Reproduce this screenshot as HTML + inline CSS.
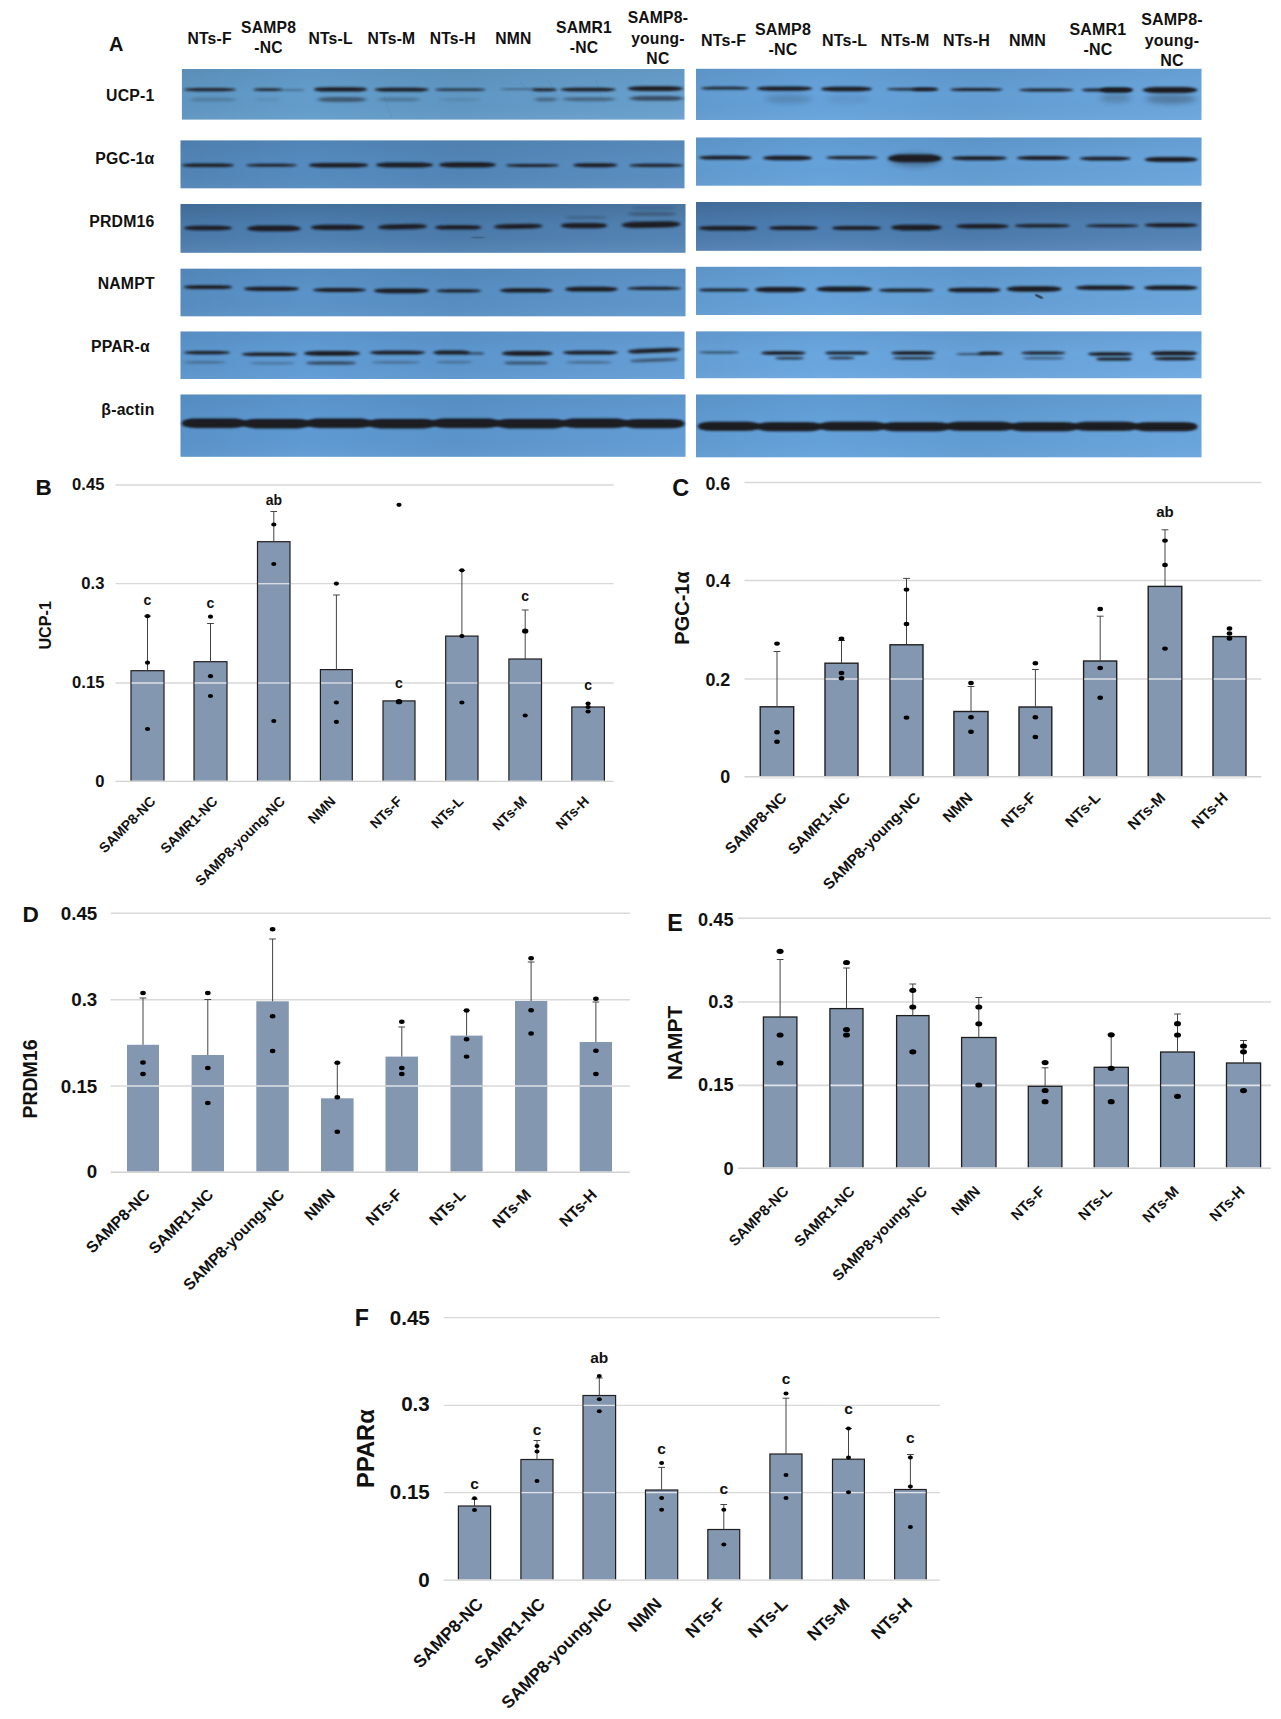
<!DOCTYPE html>
<html lang="en"><head><meta charset="utf-8"><title>Figure</title>
<style>html,body{margin:0;padding:0;background:#fff}body{width:1281px;height:1719px;overflow:hidden}</style>
</head><body>
<svg width="1281" height="1719" viewBox="0 0 1281 1719" style="display:block" font-family='"Liberation Sans", sans-serif' font-weight="700" fill="#111">
<defs>
<filter id="b1" x="-10%" y="-200%" width="120%" height="500%"><feGaussianBlur stdDeviation="1.5 0.85"/></filter>
<filter id="b2" x="-10%" y="-200%" width="120%" height="500%"><feGaussianBlur stdDeviation="2 1.0"/></filter>
<filter id="b3" x="-20%" y="-100%" width="140%" height="300%"><feGaussianBlur stdDeviation="3 2.4"/></filter>
<filter id="soft" x="-5%" y="-5%" width="110%" height="110%"><feGaussianBlur stdDeviation="0.45"/></filter>
<linearGradient id="shade" x1="0" y1="0" x2="1" y2="0">
<stop offset="0" stop-color="#000" stop-opacity=".05"/><stop offset=".25" stop-color="#000" stop-opacity=".0"/>
<stop offset=".55" stop-color="#000" stop-opacity=".04"/><stop offset="1" stop-color="#fff" stop-opacity=".03"/></linearGradient>
<linearGradient id="vshade0" x1="0" y1="0" x2="0" y2="1"><stop offset="0" stop-color="#000" stop-opacity=".05"/><stop offset=".5" stop-color="#000" stop-opacity="0"/><stop offset="1" stop-color="#fff" stop-opacity=".04"/></linearGradient>
<linearGradient id="vshade3" x1="0" y1="0" x2="0" y2="1"><stop offset="0" stop-color="#000" stop-opacity=".13"/><stop offset=".45" stop-color="#000" stop-opacity=".02"/><stop offset="1" stop-color="#fff" stop-opacity=".07"/></linearGradient>
</defs>
<rect width="1281" height="1719" fill="#fff"/>
<g id="blots">
<rect x="181.9" y="69" width="502.6" height="50.6" fill="#639dcb"/>
<rect x="181.9" y="69" width="502.6" height="50.6" fill="url(#shade)"/>
<rect x="181.9" y="69" width="502.6" height="50.6" fill="url(#vshade0)"/>
<rect x="180.5" y="140.4" width="504.0" height="47.9" fill="#558bbf"/>
<rect x="180.5" y="140.4" width="504.0" height="47.9" fill="url(#shade)"/>
<rect x="180.5" y="140.4" width="504.0" height="47.9" fill="url(#vshade0)"/>
<rect x="180.5" y="204" width="505.0" height="48.8" fill="#4e81b4"/>
<rect x="180.5" y="204" width="505.0" height="48.8" fill="url(#shade)"/>
<rect x="180.5" y="204" width="505.0" height="48.8" fill="url(#vshade3)"/>
<rect x="180.5" y="268.7" width="505.0" height="47.6" fill="#5a93c9"/>
<rect x="180.5" y="268.7" width="505.0" height="47.6" fill="url(#shade)"/>
<rect x="180.5" y="268.7" width="505.0" height="47.6" fill="url(#vshade0)"/>
<rect x="180.5" y="331.5" width="504.0" height="47.5" fill="#609cd5"/>
<rect x="180.5" y="331.5" width="504.0" height="47.5" fill="url(#shade)"/>
<rect x="180.5" y="331.5" width="504.0" height="47.5" fill="url(#vshade0)"/>
<rect x="180.5" y="394.5" width="505.0" height="62.3" fill="#5e9ad3"/>
<rect x="180.5" y="394.5" width="505.0" height="62.3" fill="url(#shade)"/>
<rect x="180.5" y="394.5" width="505.0" height="62.3" fill="url(#vshade0)"/>
<rect x="696" y="68.8" width="505.5" height="51.2" fill="#66a3db"/>
<rect x="696" y="68.8" width="505.5" height="51.2" fill="url(#shade)"/>
<rect x="696" y="68.8" width="505.5" height="51.2" fill="url(#vshade0)"/>
<rect x="696" y="137.5" width="505.5" height="48.2" fill="#65a2da"/>
<rect x="696" y="137.5" width="505.5" height="48.2" fill="url(#shade)"/>
<rect x="696" y="137.5" width="505.5" height="48.2" fill="url(#vshade0)"/>
<rect x="696" y="202" width="505.5" height="48.8" fill="#4e80b5"/>
<rect x="696" y="202" width="505.5" height="48.8" fill="url(#shade)"/>
<rect x="696" y="202" width="505.5" height="48.8" fill="url(#vshade3)"/>
<rect x="696" y="266.8" width="505.5" height="48.2" fill="#66a3db"/>
<rect x="696" y="266.8" width="505.5" height="48.2" fill="url(#shade)"/>
<rect x="696" y="266.8" width="505.5" height="48.2" fill="url(#vshade0)"/>
<rect x="696" y="331.4" width="505.5" height="46.8" fill="#6aa7e0"/>
<rect x="696" y="331.4" width="505.5" height="46.8" fill="url(#shade)"/>
<rect x="696" y="331.4" width="505.5" height="46.8" fill="url(#vshade0)"/>
<rect x="696" y="394.5" width="505.5" height="62.8" fill="#64a2db"/>
<rect x="696" y="394.5" width="505.5" height="62.8" fill="url(#shade)"/>
<rect x="696" y="394.5" width="505.5" height="62.8" fill="url(#vshade0)"/>
<rect x="184.0" y="88.05" width="52.0" height="3.10" rx="13.5" ry="1.55" fill="#1b1e24" opacity="0.95" filter="url(#b1)"/>
<rect x="253.0" y="88.30" width="30.0" height="2.60" rx="7.8" ry="1.30" fill="#1b1e24" opacity="0.9" filter="url(#b1)"/>
<rect x="281.0" y="89.30" width="24.0" height="1.40" rx="6.2" ry="0.70" fill="#1b1e24" opacity="0.45" filter="url(#b1)"/>
<rect x="314.0" y="87.20" width="53.0" height="4.40" rx="13.8" ry="2.20" fill="#1b1e24" opacity="1" filter="url(#b1)"/>
<rect x="374.7" y="87.75" width="54.0" height="3.70" rx="14.0" ry="1.85" fill="#1b1e24" opacity="1" filter="url(#b1)"/>
<rect x="435.0" y="88.40" width="50.6" height="2.40" rx="13.2" ry="1.20" fill="#1b1e24" opacity="0.9" filter="url(#b1)"/>
<rect x="500.0" y="88.45" width="40.0" height="1.50" rx="10.4" ry="0.75" fill="#1b1e24" opacity="0.5" filter="url(#b1)"/>
<rect x="532.0" y="88.30" width="25.0" height="3.00" rx="6.5" ry="1.50" fill="#1b1e24" opacity="0.95" filter="url(#b1)"/>
<rect x="560.7" y="87.85" width="54.8" height="3.50" rx="14.0" ry="1.75" fill="#1b1e24" opacity="1" filter="url(#b1)"/>
<rect x="627.7" y="86.20" width="55.3" height="4.80" rx="14.0" ry="2.40" fill="#1b1e24" opacity="1" filter="url(#b1)"/>
<rect x="190.0" y="97.60" width="46.0" height="4.00" rx="12.0" ry="2.00" fill="#1b1e24" opacity="0.2" filter="url(#b2)"/>
<rect x="255.0" y="97.90" width="25.0" height="3.40" rx="6.5" ry="1.70" fill="#1b1e24" opacity="0.08" filter="url(#b2)"/>
<rect x="318.0" y="96.90" width="48.0" height="5.00" rx="12.5" ry="2.50" fill="#1b1e24" opacity="0.5" filter="url(#b2)"/>
<rect x="378.0" y="97.40" width="42.0" height="4.00" rx="10.9" ry="2.00" fill="#1b1e24" opacity="0.25" filter="url(#b2)"/>
<rect x="440.0" y="97.90" width="40.0" height="3.40" rx="10.4" ry="1.70" fill="#1b1e24" opacity="0.1" filter="url(#b2)"/>
<rect x="535.0" y="97.40" width="22.0" height="4.00" rx="5.7" ry="2.00" fill="#1b1e24" opacity="0.38" filter="url(#b2)"/>
<rect x="563.0" y="97.20" width="52.0" height="4.00" rx="13.5" ry="2.00" fill="#1b1e24" opacity="0.4" filter="url(#b2)"/>
<rect x="630.0" y="96.10" width="53.0" height="4.60" rx="13.8" ry="2.30" fill="#1b1e24" opacity="0.62" filter="url(#b2)"/>
<rect x="182.0" y="163.40" width="52.0" height="3.60" rx="13.5" ry="1.80" fill="#1b1e24" opacity="1" filter="url(#b1)"/>
<rect x="246.0" y="163.70" width="51.0" height="3.00" rx="13.3" ry="1.50" fill="#1b1e24" opacity="0.95" filter="url(#b1)"/>
<rect x="309.0" y="162.90" width="59.0" height="4.60" rx="14.0" ry="2.30" fill="#1b1e24" opacity="1" filter="url(#b1)"/>
<rect x="376.0" y="162.60" width="57.0" height="4.80" rx="14.0" ry="2.40" fill="#1b1e24" opacity="1" filter="url(#b1)"/>
<rect x="439.0" y="162.20" width="57.0" height="5.20" rx="14.0" ry="2.60" fill="#1b1e24" opacity="1" filter="url(#b1)"/>
<rect x="506.0" y="163.90" width="52.7" height="3.00" rx="13.7" ry="1.50" fill="#1b1e24" opacity="0.95" filter="url(#b1)"/>
<rect x="573.0" y="163.20" width="44.5" height="4.00" rx="11.6" ry="2.00" fill="#1b1e24" opacity="1" filter="url(#b1)"/>
<rect x="629.7" y="163.70" width="52.8" height="3.40" rx="13.7" ry="1.70" fill="#1b1e24" opacity="0.95" filter="url(#b1)"/>
<rect x="184.0" y="225.80" width="48.0" height="4.40" rx="12.5" ry="2.20" fill="#1b1e24" opacity="1" filter="url(#b1)"/>
<rect x="247.0" y="225.60" width="54.0" height="5.60" rx="14.0" ry="2.80" fill="#1b1e24" opacity="1" filter="url(#b1)"/>
<rect x="311.0" y="224.70" width="53.0" height="5.40" rx="13.8" ry="2.70" fill="#1b1e24" opacity="1" filter="url(#b1)"/>
<rect x="378.0" y="224.30" width="49.0" height="5.00" rx="12.7" ry="2.50" fill="#1b1e24" opacity="1" filter="url(#b1)" transform="rotate(-1.20 402.5 226.8)"/>
<rect x="435.0" y="225.20" width="46.5" height="4.40" rx="12.1" ry="2.20" fill="#1b1e24" opacity="1" filter="url(#b1)"/>
<rect x="494.0" y="224.10" width="48.4" height="4.60" rx="12.6" ry="2.30" fill="#1b1e24" opacity="1" filter="url(#b1)" transform="rotate(-1.00 518.2 226.4)"/>
<rect x="560.7" y="223.00" width="46.7" height="5.20" rx="12.1" ry="2.60" fill="#1b1e24" opacity="1" filter="url(#b1)"/>
<rect x="621.6" y="221.50" width="58.9" height="6.20" rx="14.0" ry="3.10" fill="#1b1e24" opacity="1" filter="url(#b1)" transform="rotate(-1.00 651.0 224.6)"/>
<rect x="565.0" y="215.90" width="42.0" height="3.20" rx="10.9" ry="1.60" fill="#1b1e24" opacity="0.2" filter="url(#b1)"/>
<rect x="628.0" y="211.90" width="48.0" height="4.20" rx="12.5" ry="2.10" fill="#1b1e24" opacity="0.28" filter="url(#b1)"/>
<rect x="632.0" y="206.40" width="44.0" height="3.20" rx="11.4" ry="1.60" fill="#1b1e24" opacity="0.15" filter="url(#b1)"/>
<rect x="184.0" y="285.30" width="48.0" height="3.80" rx="12.5" ry="1.90" fill="#1b1e24" opacity="1" filter="url(#b1)"/>
<rect x="244.0" y="286.70" width="55.0" height="4.20" rx="14.0" ry="2.10" fill="#1b1e24" opacity="1" filter="url(#b1)"/>
<rect x="313.0" y="288.10" width="53.0" height="3.80" rx="13.8" ry="1.90" fill="#1b1e24" opacity="1" filter="url(#b1)"/>
<rect x="374.0" y="288.40" width="55.0" height="4.80" rx="14.0" ry="2.40" fill="#1b1e24" opacity="1" filter="url(#b1)"/>
<rect x="436.0" y="289.20" width="45.5" height="3.20" rx="11.8" ry="1.60" fill="#1b1e24" opacity="0.95" filter="url(#b1)"/>
<rect x="500.0" y="288.30" width="52.6" height="4.20" rx="13.7" ry="2.10" fill="#1b1e24" opacity="1" filter="url(#b1)"/>
<rect x="565.0" y="286.80" width="52.6" height="4.80" rx="13.7" ry="2.40" fill="#1b1e24" opacity="1" filter="url(#b1)"/>
<rect x="627.7" y="286.70" width="52.8" height="3.40" rx="13.7" ry="1.70" fill="#1b1e24" opacity="0.95" filter="url(#b1)"/>
<rect x="184.0" y="350.90" width="46.0" height="3.40" rx="12.0" ry="1.70" fill="#1b1e24" opacity="1" filter="url(#b1)"/>
<rect x="242.0" y="352.50" width="55.0" height="3.40" rx="14.0" ry="1.70" fill="#1b1e24" opacity="1" filter="url(#b1)"/>
<rect x="304.0" y="351.00" width="56.0" height="4.80" rx="14.0" ry="2.40" fill="#1b1e24" opacity="1" filter="url(#b1)"/>
<rect x="370.0" y="350.70" width="55.0" height="3.80" rx="14.0" ry="1.90" fill="#1b1e24" opacity="1" filter="url(#b1)"/>
<rect x="433.0" y="350.60" width="37.0" height="4.00" rx="9.6" ry="2.00" fill="#1b1e24" opacity="1" filter="url(#b1)"/>
<rect x="465.0" y="352.50" width="19.0" height="1.80" rx="4.9" ry="0.90" fill="#1b1e24" opacity="0.8" filter="url(#b1)"/>
<rect x="502.0" y="351.10" width="50.6" height="4.60" rx="13.2" ry="2.30" fill="#1b1e24" opacity="1" filter="url(#b1)"/>
<rect x="563.0" y="350.70" width="54.6" height="3.80" rx="14.0" ry="1.90" fill="#1b1e24" opacity="1" filter="url(#b1)"/>
<rect x="627.7" y="348.40" width="52.8" height="4.40" rx="13.7" ry="2.20" fill="#1b1e24" opacity="1" filter="url(#b1)" transform="rotate(-2.20 654.1 350.6)"/>
<rect x="184.0" y="361.10" width="42.0" height="2.60" rx="10.9" ry="1.30" fill="#1b1e24" opacity="0.3" filter="url(#b1)"/>
<rect x="250.0" y="361.90" width="45.0" height="2.60" rx="11.7" ry="1.30" fill="#1b1e24" opacity="0.28" filter="url(#b1)"/>
<rect x="306.0" y="361.30" width="50.0" height="3.40" rx="13.0" ry="1.70" fill="#1b1e24" opacity="0.6" filter="url(#b1)"/>
<rect x="372.0" y="361.10" width="48.0" height="2.60" rx="12.5" ry="1.30" fill="#1b1e24" opacity="0.3" filter="url(#b1)"/>
<rect x="436.0" y="360.90" width="36.0" height="2.60" rx="9.4" ry="1.30" fill="#1b1e24" opacity="0.3" filter="url(#b1)"/>
<rect x="504.0" y="361.40" width="44.0" height="3.20" rx="11.4" ry="1.60" fill="#1b1e24" opacity="0.55" filter="url(#b1)"/>
<rect x="566.0" y="361.10" width="46.0" height="2.60" rx="12.0" ry="1.30" fill="#1b1e24" opacity="0.35" filter="url(#b1)"/>
<rect x="630.0" y="358.60" width="48.0" height="3.20" rx="12.5" ry="1.60" fill="#1b1e24" opacity="0.55" filter="url(#b1)" transform="rotate(-2.20 654.0 360.2)"/>
<rect x="701.0" y="86.80" width="48.0" height="2.80" rx="12.5" ry="1.40" fill="#1b1e24" opacity="0.95" filter="url(#b1)"/>
<rect x="757.0" y="86.50" width="55.0" height="4.20" rx="14.0" ry="2.10" fill="#1b1e24" opacity="1" filter="url(#b1)"/>
<rect x="821.0" y="86.80" width="51.0" height="4.40" rx="13.3" ry="2.20" fill="#1b1e24" opacity="1" filter="url(#b1)"/>
<rect x="887.0" y="87.90" width="50.7" height="2.60" rx="13.2" ry="1.30" fill="#1b1e24" opacity="0.9" filter="url(#b1)"/>
<rect x="912.0" y="87.70" width="25.7" height="3.40" rx="6.7" ry="1.70" fill="#1b1e24" opacity="0.9" filter="url(#b1)"/>
<rect x="950.0" y="88.10" width="52.6" height="3.00" rx="13.7" ry="1.50" fill="#1b1e24" opacity="0.95" filter="url(#b1)"/>
<rect x="1019.0" y="88.50" width="54.7" height="3.00" rx="14.0" ry="1.50" fill="#1b1e24" opacity="0.95" filter="url(#b1)"/>
<rect x="1081.8" y="88.40" width="50.8" height="3.20" rx="13.2" ry="1.60" fill="#1b1e24" opacity="0.95" filter="url(#b1)"/>
<rect x="1100.0" y="87.60" width="32.6" height="4.80" rx="8.5" ry="2.40" fill="#1b1e24" opacity="1" filter="url(#b1)"/>
<rect x="1142.7" y="87.10" width="54.8" height="5.80" rx="14.0" ry="2.90" fill="#1b1e24" opacity="1" filter="url(#b1)"/>
<ellipse cx="1115.5" cy="98.0" rx="15.5" ry="4.50" fill="#1b1e24" opacity="0.22" filter="url(#b3)"/>
<ellipse cx="1171.0" cy="99.0" rx="25.0" ry="5.00" fill="#1b1e24" opacity="0.3" filter="url(#b3)"/>
<ellipse cx="787.5" cy="99.0" rx="22.5" ry="4.00" fill="#1b1e24" opacity="0.1" filter="url(#b3)"/>
<rect x="699.0" y="155.70" width="52.0" height="3.80" rx="13.5" ry="1.90" fill="#1b1e24" opacity="1" filter="url(#b1)"/>
<rect x="763.0" y="155.80" width="49.0" height="4.40" rx="12.7" ry="2.20" fill="#1b1e24" opacity="1" filter="url(#b1)"/>
<rect x="826.0" y="156.00" width="51.6" height="3.20" rx="13.4" ry="1.60" fill="#1b1e24" opacity="0.95" filter="url(#b1)"/>
<rect x="888.0" y="154.60" width="53.7" height="7.60" rx="14.0" ry="3.80" fill="#1b1e24" opacity="1" filter="url(#b1)"/>
<rect x="952.0" y="156.20" width="54.7" height="4.00" rx="14.0" ry="2.00" fill="#1b1e24" opacity="1" filter="url(#b1)"/>
<rect x="1016.8" y="156.10" width="52.8" height="3.80" rx="13.7" ry="1.90" fill="#1b1e24" opacity="1" filter="url(#b1)"/>
<rect x="1079.8" y="156.80" width="50.7" height="3.60" rx="13.2" ry="1.80" fill="#1b1e24" opacity="1" filter="url(#b1)"/>
<rect x="1144.7" y="156.90" width="52.8" height="5.00" rx="13.7" ry="2.50" fill="#1b1e24" opacity="1" filter="url(#b1)"/>
<ellipse cx="915.0" cy="160.0" rx="25.0" ry="7.00" fill="#1b1e24" opacity="0.3" filter="url(#b3)"/>
<rect x="699.0" y="225.90" width="58.0" height="4.60" rx="14.0" ry="2.30" fill="#1b1e24" opacity="1" filter="url(#b1)"/>
<rect x="769.0" y="226.00" width="49.0" height="4.00" rx="12.7" ry="2.00" fill="#1b1e24" opacity="1" filter="url(#b1)"/>
<rect x="832.0" y="225.90" width="49.0" height="4.20" rx="12.7" ry="2.10" fill="#1b1e24" opacity="1" filter="url(#b1)"/>
<rect x="891.0" y="224.80" width="50.7" height="5.60" rx="13.2" ry="2.80" fill="#1b1e24" opacity="1" filter="url(#b1)"/>
<rect x="956.0" y="224.00" width="52.7" height="4.40" rx="13.7" ry="2.20" fill="#1b1e24" opacity="1" filter="url(#b1)"/>
<rect x="1014.8" y="224.10" width="54.8" height="3.40" rx="14.0" ry="1.70" fill="#1b1e24" opacity="0.95" filter="url(#b1)"/>
<rect x="1085.9" y="224.30" width="52.7" height="3.00" rx="13.7" ry="1.50" fill="#1b1e24" opacity="0.95" filter="url(#b1)"/>
<rect x="1144.7" y="223.20" width="52.8" height="4.00" rx="13.7" ry="2.00" fill="#1b1e24" opacity="1" filter="url(#b1)"/>
<rect x="699.0" y="288.40" width="50.0" height="3.20" rx="13.0" ry="1.60" fill="#1b1e24" opacity="0.95" filter="url(#b1)"/>
<rect x="755.0" y="287.00" width="50.7" height="5.20" rx="13.2" ry="2.60" fill="#1b1e24" opacity="1" filter="url(#b1)"/>
<rect x="816.7" y="286.60" width="55.3" height="5.20" rx="14.0" ry="2.60" fill="#1b1e24" opacity="1" filter="url(#b1)"/>
<rect x="878.8" y="288.50" width="54.8" height="3.40" rx="14.0" ry="1.70" fill="#1b1e24" opacity="0.95" filter="url(#b1)"/>
<rect x="947.8" y="287.70" width="52.8" height="4.60" rx="13.7" ry="2.30" fill="#1b1e24" opacity="1" filter="url(#b1)"/>
<rect x="1006.7" y="286.30" width="54.8" height="5.40" rx="14.0" ry="2.70" fill="#1b1e24" opacity="1" filter="url(#b1)"/>
<rect x="1075.7" y="285.60" width="58.9" height="4.40" rx="14.0" ry="2.20" fill="#1b1e24" opacity="1" filter="url(#b1)"/>
<rect x="1144.0" y="285.50" width="53.5" height="4.60" rx="13.9" ry="2.30" fill="#1b1e24" opacity="1" filter="url(#b1)"/>
<rect x="699.0" y="351.40" width="39.7" height="2.00" rx="10.3" ry="1.00" fill="#1b1e24" opacity="0.7" filter="url(#b1)"/>
<rect x="761.0" y="351.30" width="44.7" height="3.40" rx="11.6" ry="1.70" fill="#1b1e24" opacity="1" filter="url(#b1)"/>
<rect x="824.8" y="351.40" width="43.8" height="3.20" rx="11.4" ry="1.60" fill="#1b1e24" opacity="1" filter="url(#b1)"/>
<rect x="891.0" y="351.30" width="44.6" height="3.40" rx="11.6" ry="1.70" fill="#1b1e24" opacity="1" filter="url(#b1)"/>
<rect x="956.0" y="353.30" width="29.0" height="1.80" rx="7.5" ry="0.90" fill="#1b1e24" opacity="0.7" filter="url(#b1)"/>
<rect x="978.0" y="351.70" width="24.6" height="3.40" rx="6.4" ry="1.70" fill="#1b1e24" opacity="1" filter="url(#b1)"/>
<rect x="1020.9" y="351.50" width="44.7" height="3.00" rx="11.6" ry="1.50" fill="#1b1e24" opacity="1" filter="url(#b1)"/>
<rect x="1087.9" y="352.30" width="44.7" height="3.40" rx="11.6" ry="1.70" fill="#1b1e24" opacity="1" filter="url(#b1)"/>
<rect x="1150.8" y="351.20" width="46.7" height="4.40" rx="12.1" ry="2.20" fill="#1b1e24" opacity="1" filter="url(#b1)"/>
<rect x="775.0" y="357.00" width="29.0" height="2.40" rx="7.5" ry="1.20" fill="#1b1e24" opacity="0.8" filter="url(#b1)"/>
<rect x="828.0" y="356.80" width="27.0" height="2.40" rx="7.0" ry="1.20" fill="#1b1e24" opacity="0.8" filter="url(#b1)"/>
<rect x="893.0" y="356.90" width="41.0" height="2.60" rx="10.7" ry="1.30" fill="#1b1e24" opacity="0.85" filter="url(#b1)"/>
<rect x="1023.0" y="357.20" width="41.0" height="2.00" rx="10.7" ry="1.00" fill="#1b1e24" opacity="0.6" filter="url(#b1)"/>
<rect x="1096.0" y="357.40" width="36.0" height="3.20" rx="9.4" ry="1.60" fill="#1b1e24" opacity="1" filter="url(#b1)"/>
<rect x="1154.0" y="357.00" width="42.0" height="3.20" rx="10.9" ry="1.60" fill="#1b1e24" opacity="1" filter="url(#b1)"/>
<rect x="182.0" y="418.50" width="64.0" height="9.40" rx="14.0" ry="4.70" fill="#1b1e24" opacity="1" filter="url(#b1)"/>
<rect x="243.0" y="419.10" width="67.0" height="9.40" rx="14.0" ry="4.70" fill="#1b1e24" opacity="1" filter="url(#b1)"/>
<rect x="306.0" y="418.50" width="66.0" height="9.40" rx="14.0" ry="4.70" fill="#1b1e24" opacity="1" filter="url(#b1)"/>
<rect x="368.0" y="419.10" width="68.0" height="9.40" rx="14.0" ry="4.70" fill="#1b1e24" opacity="1" filter="url(#b1)"/>
<rect x="432.0" y="418.50" width="68.0" height="9.40" rx="14.0" ry="4.70" fill="#1b1e24" opacity="1" filter="url(#b1)"/>
<rect x="496.0" y="419.10" width="70.0" height="9.40" rx="14.0" ry="4.70" fill="#1b1e24" opacity="1" filter="url(#b1)"/>
<rect x="562.0" y="418.50" width="66.0" height="9.40" rx="14.0" ry="4.70" fill="#1b1e24" opacity="1" filter="url(#b1)"/>
<rect x="624.0" y="419.30" width="60.5" height="9.00" rx="14.0" ry="4.50" fill="#1b1e24" opacity="1" filter="url(#b1)"/>
<rect x="184" y="420.8" width="498" height="5.0" fill="#1b1e24" filter="url(#b1)"/>
<rect x="698.0" y="421.70" width="62.0" height="9.00" rx="14.0" ry="4.50" fill="#1b1e24" opacity="1" filter="url(#b1)"/>
<rect x="757.0" y="422.30" width="65.0" height="9.00" rx="14.0" ry="4.50" fill="#1b1e24" opacity="1" filter="url(#b1)"/>
<rect x="819.0" y="421.70" width="67.0" height="9.00" rx="14.0" ry="4.50" fill="#1b1e24" opacity="1" filter="url(#b1)"/>
<rect x="882.0" y="422.30" width="68.0" height="9.00" rx="14.0" ry="4.50" fill="#1b1e24" opacity="1" filter="url(#b1)"/>
<rect x="946.0" y="421.70" width="68.0" height="9.00" rx="14.0" ry="4.50" fill="#1b1e24" opacity="1" filter="url(#b1)"/>
<rect x="1010.0" y="422.30" width="68.0" height="9.00" rx="14.0" ry="4.50" fill="#1b1e24" opacity="1" filter="url(#b1)"/>
<rect x="1074.0" y="421.70" width="64.0" height="9.00" rx="14.0" ry="4.50" fill="#1b1e24" opacity="1" filter="url(#b1)"/>
<rect x="1134.0" y="422.30" width="63.5" height="9.00" rx="14.0" ry="4.50" fill="#1b1e24" opacity="1" filter="url(#b1)"/>
<rect x="700" y="424.2" width="495" height="4.4" fill="#1b1e24" filter="url(#b1)"/>
<ellipse cx="1039" cy="296.5" rx="4.5" ry="1.2" fill="#1b1e24" opacity=".75" transform="rotate(24 1039 296.5)" filter="url(#soft)"/>
<ellipse cx="790" cy="99" rx="24" ry="5" fill="#1b1e24" opacity=".08" filter="url(#b3)"/>
<ellipse cx="848" cy="99" rx="22" ry="5" fill="#1b1e24" opacity=".07" filter="url(#b3)"/>
<ellipse cx="478" cy="237.5" rx="7" ry="1" fill="#1b1e24" opacity=".25" filter="url(#soft)"/>
<path d="M520 82 L534 96 M548 80 L560 100 M596 80 L604 104 M384 96 L392 118" stroke="#2c4d75" stroke-width="0.7" opacity=".14" fill="none"/>
</g>
<g id="blotlabels" font-size="15.8" letter-spacing="0.2">
<text x="109" y="50.7" font-size="20" letter-spacing="0">A</text>
<g font-size="15.7" text-anchor="middle">
<text x="209.6" y="44">NTs-F</text>
<text x="268.6" y="33.1">SAMP8</text>
<text x="268.6" y="53.3">-NC</text>
<text x="330.6" y="44">NTs-L</text>
<text x="391.5" y="44">NTs-M</text>
<text x="452.7" y="44">NTs-H</text>
<text x="513.4" y="44">NMN</text>
<text x="584.0" y="33.1">SAMR1</text>
<text x="584.0" y="53.3">-NC</text>
<text x="657.9" y="23.2">SAMP8-</text>
<text x="657.9" y="43.7">young-</text>
<text x="657.9" y="63.7">NC</text>
</g>
<g font-size="16" text-anchor="middle">
<text x="723.6" y="45.7">NTs-F</text>
<text x="783.0" y="35">SAMP8</text>
<text x="783.0" y="55">-NC</text>
<text x="844.6" y="45.7">NTs-L</text>
<text x="905.2" y="45.7">NTs-M</text>
<text x="966.5" y="45.7">NTs-H</text>
<text x="1027.4" y="45.7">NMN</text>
<text x="1097.9" y="35">SAMR1</text>
<text x="1097.9" y="55">-NC</text>
<text x="1172.0" y="25">SAMP8-</text>
<text x="1172.0" y="45.7">young-</text>
<text x="1172.0" y="65.5">NC</text>
</g>
<text x="154.5" y="100.6" text-anchor="end">UCP-1</text>
<text x="154.5" y="163.5" text-anchor="end">PGC-1α</text>
<text x="154.5" y="226.5" text-anchor="end">PRDM16</text>
<text x="154.8" y="289.4" text-anchor="end">NAMPT</text>
<text x="149.8" y="352.2" text-anchor="end">PPAR-α</text>
<text x="154.5" y="415" text-anchor="end">β-actin</text>
</g>
<g id="chartB">
<line x1="115.5" y1="485" x2="613.7" y2="485" stroke="#d8d8d8" stroke-width="1.3"/>
<line x1="115.5" y1="583.7" x2="613.7" y2="583.7" stroke="#d8d8d8" stroke-width="1.3"/>
<line x1="115.5" y1="683" x2="613.7" y2="683" stroke="#d8d8d8" stroke-width="1.3"/>
<rect x="131.0" y="670.7" width="33.0" height="111.5" fill="#8497b0" stroke="#1e1e1e" stroke-width="1.2"/>
<rect x="194.0" y="661.7" width="33.0" height="120.5" fill="#8497b0" stroke="#1e1e1e" stroke-width="1.2"/>
<rect x="257.5" y="541.7" width="32.5" height="240.5" fill="#8497b0" stroke="#1e1e1e" stroke-width="1.2"/>
<rect x="320.4" y="669.6" width="31.9" height="112.6" fill="#8497b0" stroke="#1e1e1e" stroke-width="1.2"/>
<rect x="383.0" y="700.9" width="32.0" height="81.3" fill="#8497b0" stroke="#1e1e1e" stroke-width="1.2"/>
<rect x="445.7" y="636.1" width="32.3" height="146.1" fill="#8497b0" stroke="#1e1e1e" stroke-width="1.2"/>
<rect x="508.9" y="659.0" width="32.6" height="123.2" fill="#8497b0" stroke="#1e1e1e" stroke-width="1.2"/>
<rect x="571.8" y="707.0" width="32.6" height="75.2" fill="#8497b0" stroke="#1e1e1e" stroke-width="1.2"/>
<rect x="115.5" y="780.75" width="498.2" height="2.50" fill="#fff"/>
<line x1="115.5" y1="781.4" x2="613.7" y2="781.4" stroke="#d2d2d2" stroke-width="1.3"/>
<line x1="258.1" y1="583.7" x2="289.4" y2="583.7" stroke="#dfe2e7" stroke-width="1.3"/>
<line x1="131.6" y1="683" x2="163.4" y2="683" stroke="#dfe2e7" stroke-width="1.3"/>
<line x1="194.6" y1="683" x2="226.4" y2="683" stroke="#dfe2e7" stroke-width="1.3"/>
<line x1="258.1" y1="683" x2="289.4" y2="683" stroke="#dfe2e7" stroke-width="1.3"/>
<line x1="321.0" y1="683" x2="351.7" y2="683" stroke="#dfe2e7" stroke-width="1.3"/>
<line x1="446.3" y1="683" x2="477.4" y2="683" stroke="#dfe2e7" stroke-width="1.3"/>
<line x1="509.5" y1="683" x2="540.9" y2="683" stroke="#dfe2e7" stroke-width="1.3"/>
<path d="M147.5 670.7V616.0M144.1 616.0H150.9" stroke="#444" stroke-width="1" fill="none"/>
<ellipse cx="147.5" cy="616.2" rx="2.6" ry="2.1" fill="#000"/>
<ellipse cx="147.5" cy="662.7" rx="2.6" ry="2.1" fill="#000"/>
<ellipse cx="147.5" cy="729.0" rx="2.6" ry="2.1" fill="#000"/>
<text x="147.5" y="604.5" text-anchor="middle" font-size="14">c</text>
<path d="M210.5 661.7V623.5M207.1 623.5H213.9" stroke="#444" stroke-width="1" fill="none"/>
<ellipse cx="210.5" cy="616.7" rx="2.6" ry="2.1" fill="#000"/>
<ellipse cx="210.5" cy="676.2" rx="2.6" ry="2.1" fill="#000"/>
<ellipse cx="210.5" cy="696.0" rx="2.6" ry="2.1" fill="#000"/>
<text x="210.5" y="608.0" text-anchor="middle" font-size="14">c</text>
<path d="M273.8 541.7V511.5M270.4 511.5H277.1" stroke="#444" stroke-width="1" fill="none"/>
<ellipse cx="273.8" cy="524.5" rx="2.6" ry="2.1" fill="#000"/>
<ellipse cx="273.8" cy="564.0" rx="2.6" ry="2.1" fill="#000"/>
<ellipse cx="273.8" cy="721.0" rx="2.6" ry="2.1" fill="#000"/>
<text x="273.8" y="505.0" text-anchor="middle" font-size="14">ab</text>
<path d="M336.4 669.6V595.0M333.0 595.0H339.8" stroke="#444" stroke-width="1" fill="none"/>
<ellipse cx="336.4" cy="583.6" rx="2.6" ry="2.1" fill="#000"/>
<ellipse cx="336.4" cy="702.5" rx="2.6" ry="2.1" fill="#000"/>
<ellipse cx="336.4" cy="721.9" rx="2.6" ry="2.1" fill="#000"/>
<ellipse cx="399.0" cy="504.8" rx="2.6" ry="2.1" fill="#000"/>
<ellipse cx="399.0" cy="701.7" rx="3.2" ry="2.6" fill="#000"/>
<text x="399.0" y="688.0" text-anchor="middle" font-size="14">c</text>
<path d="M461.9 636.1V570.3M458.5 570.3H465.2" stroke="#444" stroke-width="1" fill="none"/>
<ellipse cx="461.9" cy="570.3" rx="2.6" ry="2.1" fill="#000"/>
<ellipse cx="461.9" cy="636.1" rx="2.6" ry="2.1" fill="#000"/>
<ellipse cx="461.9" cy="702.5" rx="2.6" ry="2.1" fill="#000"/>
<path d="M525.2 659.0V610.0M521.8 610.0H528.6" stroke="#444" stroke-width="1" fill="none"/>
<ellipse cx="525.2" cy="631.0" rx="3.2" ry="2.6" fill="#000"/>
<ellipse cx="525.2" cy="715.5" rx="2.6" ry="2.1" fill="#000"/>
<text x="525.2" y="601.0" text-anchor="middle" font-size="14">c</text>
<ellipse cx="588.1" cy="703.5" rx="2.6" ry="2.1" fill="#000"/>
<ellipse cx="588.1" cy="707.0" rx="2.6" ry="2.1" fill="#000"/>
<ellipse cx="588.1" cy="711.5" rx="2.6" ry="2.1" fill="#000"/>
<text x="588.1" y="690.0" text-anchor="middle" font-size="14">c</text>
<text x="104.4" y="490.3" text-anchor="end" font-size="16.6">0.45</text>
<text x="104.4" y="588.5" text-anchor="end" font-size="16.6">0.3</text>
<text x="104.4" y="688.2" text-anchor="end" font-size="16.6">0.15</text>
<text x="104.4" y="787.4" text-anchor="end" font-size="16.6">0</text>
<text x="35.6" y="495" font-size="22.5">B</text>
<text transform="translate(50.7 625.3) rotate(-90)" text-anchor="middle" font-size="16.2">UCP-1</text>
<text transform="translate(156.5 802.1) rotate(-45)" text-anchor="end" font-size="14">SAMP8-NC</text>
<text transform="translate(218.5 802.1) rotate(-45)" text-anchor="end" font-size="14">SAMR1-NC</text>
<text transform="translate(285.8 802.1) rotate(-45)" text-anchor="end" font-size="14">SAMP8-young-NC</text>
<text transform="translate(336.4 802.1) rotate(-45)" text-anchor="end" font-size="14">NMN</text>
<text transform="translate(403.0 802.1) rotate(-45)" text-anchor="end" font-size="14">NTs-F</text>
<text transform="translate(464.4 802.1) rotate(-45)" text-anchor="end" font-size="14">NTs-L</text>
<text transform="translate(527.7 802.1) rotate(-45)" text-anchor="end" font-size="14">NTs-M</text>
<text transform="translate(589.8 802.1) rotate(-45)" text-anchor="end" font-size="14">NTs-H</text>
</g>
<g id="chartC">
<line x1="744.5" y1="482.5" x2="1261.4" y2="482.5" stroke="#d8d8d8" stroke-width="1.4"/>
<line x1="744.5" y1="580.5" x2="1261.4" y2="580.5" stroke="#d8d8d8" stroke-width="1.4"/>
<line x1="744.5" y1="679" x2="1261.4" y2="679" stroke="#d8d8d8" stroke-width="1.4"/>
<rect x="760.2" y="706.8" width="33.5" height="70.7" fill="#8497b0" stroke="#1e1e1e" stroke-width="1.4"/>
<rect x="825.0" y="663.2" width="33.0" height="114.3" fill="#8497b0" stroke="#1e1e1e" stroke-width="1.4"/>
<rect x="890.0" y="644.8" width="33.0" height="132.7" fill="#8497b0" stroke="#1e1e1e" stroke-width="1.4"/>
<rect x="953.9" y="711.5" width="34.1" height="66.0" fill="#8497b0" stroke="#1e1e1e" stroke-width="1.4"/>
<rect x="1019.0" y="707.0" width="32.8" height="70.5" fill="#8497b0" stroke="#1e1e1e" stroke-width="1.4"/>
<rect x="1083.6" y="661.0" width="33.1" height="116.5" fill="#8497b0" stroke="#1e1e1e" stroke-width="1.4"/>
<rect x="1148.2" y="586.4" width="33.6" height="191.1" fill="#8497b0" stroke="#1e1e1e" stroke-width="1.4"/>
<rect x="1213.0" y="636.6" width="33.0" height="140.9" fill="#8497b0" stroke="#1e1e1e" stroke-width="1.4"/>
<rect x="744.5" y="776.00" width="516.9" height="2.60" fill="#fff"/>
<line x1="744.5" y1="776.7" x2="1261.4" y2="776.7" stroke="#d2d2d2" stroke-width="1.4"/>
<line x1="825.6" y1="679" x2="857.4" y2="679" stroke="#dfe2e7" stroke-width="1.4"/>
<line x1="890.6" y1="679" x2="922.4" y2="679" stroke="#dfe2e7" stroke-width="1.4"/>
<line x1="1084.2" y1="679" x2="1116.1" y2="679" stroke="#dfe2e7" stroke-width="1.4"/>
<line x1="1148.8" y1="679" x2="1181.2" y2="679" stroke="#dfe2e7" stroke-width="1.4"/>
<line x1="1213.6" y1="679" x2="1245.4" y2="679" stroke="#dfe2e7" stroke-width="1.4"/>
<path d="M777.0 706.8V651.5M773.6 651.5H780.4" stroke="#444" stroke-width="1" fill="none"/>
<ellipse cx="777.0" cy="643.6" rx="2.8" ry="2.2" fill="#000"/>
<ellipse cx="777.0" cy="732.3" rx="2.8" ry="2.2" fill="#000"/>
<ellipse cx="777.0" cy="741.8" rx="2.8" ry="2.2" fill="#000"/>
<path d="M841.5 663.2V640.5M838.1 640.5H844.9" stroke="#444" stroke-width="1" fill="none"/>
<ellipse cx="841.5" cy="638.8" rx="2.8" ry="2.2" fill="#000"/>
<ellipse cx="841.5" cy="673.0" rx="2.8" ry="2.2" fill="#000"/>
<ellipse cx="841.5" cy="678.3" rx="2.8" ry="2.2" fill="#000"/>
<path d="M906.5 644.8V578.4M903.1 578.4H909.9" stroke="#444" stroke-width="1" fill="none"/>
<ellipse cx="906.5" cy="589.6" rx="2.8" ry="2.2" fill="#000"/>
<ellipse cx="906.5" cy="624.0" rx="2.8" ry="2.2" fill="#000"/>
<ellipse cx="906.5" cy="717.6" rx="2.8" ry="2.2" fill="#000"/>
<path d="M971.0 711.5V686.5M967.6 686.5H974.4" stroke="#444" stroke-width="1" fill="none"/>
<ellipse cx="971.0" cy="683.0" rx="2.8" ry="2.2" fill="#000"/>
<ellipse cx="971.0" cy="717.3" rx="2.8" ry="2.2" fill="#000"/>
<ellipse cx="971.0" cy="731.8" rx="2.8" ry="2.2" fill="#000"/>
<path d="M1035.4 707.0V669.5M1032.0 669.5H1038.8" stroke="#444" stroke-width="1" fill="none"/>
<ellipse cx="1035.4" cy="663.3" rx="2.8" ry="2.2" fill="#000"/>
<ellipse cx="1035.4" cy="717.3" rx="2.8" ry="2.2" fill="#000"/>
<ellipse cx="1035.4" cy="737.0" rx="2.8" ry="2.2" fill="#000"/>
<path d="M1100.2 661.0V616.2M1096.8 616.2H1103.6" stroke="#444" stroke-width="1" fill="none"/>
<ellipse cx="1100.2" cy="609.0" rx="2.8" ry="2.2" fill="#000"/>
<ellipse cx="1100.2" cy="668.0" rx="2.8" ry="2.2" fill="#000"/>
<ellipse cx="1100.2" cy="697.8" rx="2.8" ry="2.2" fill="#000"/>
<path d="M1165.0 586.4V529.8M1161.6 529.8H1168.4" stroke="#444" stroke-width="1" fill="none"/>
<ellipse cx="1165.0" cy="540.6" rx="2.8" ry="2.2" fill="#000"/>
<ellipse cx="1165.0" cy="565.0" rx="2.8" ry="2.2" fill="#000"/>
<ellipse cx="1165.0" cy="648.6" rx="2.8" ry="2.2" fill="#000"/>
<text x="1165.0" y="517.0" text-anchor="middle" font-size="15">ab</text>
<ellipse cx="1229.5" cy="628.5" rx="2.8" ry="2.2" fill="#000"/>
<ellipse cx="1229.5" cy="633.5" rx="2.8" ry="2.2" fill="#000"/>
<ellipse cx="1229.5" cy="638.5" rx="2.8" ry="2.2" fill="#000"/>
<text x="730.3" y="489.7" text-anchor="end" font-size="17.9">0.6</text>
<text x="730.3" y="587.4" text-anchor="end" font-size="17.9">0.4</text>
<text x="730.3" y="685.6" text-anchor="end" font-size="17.9">0.2</text>
<text x="730.3" y="783.0" text-anchor="end" font-size="17.9">0</text>
<text x="672.2" y="496.4" font-size="23.5">C</text>
<text transform="translate(688.6 608) rotate(-90)" text-anchor="middle" font-size="20">PGC-1α</text>
<text transform="translate(787.4 798.7) rotate(-45)" text-anchor="end" font-size="15.2">SAMP8-NC</text>
<text transform="translate(850.9 798.7) rotate(-45)" text-anchor="end" font-size="15.2">SAMR1-NC</text>
<text transform="translate(921.2 798.7) rotate(-45)" text-anchor="end" font-size="15.2">SAMP8-young-NC</text>
<text transform="translate(973.4 798.7) rotate(-45)" text-anchor="end" font-size="15.2">NMN</text>
<text transform="translate(1036.9 798.7) rotate(-45)" text-anchor="end" font-size="15.2">NTs-F</text>
<text transform="translate(1101.2 798.7) rotate(-45)" text-anchor="end" font-size="15.2">NTs-L</text>
<text transform="translate(1166.1 798.7) rotate(-45)" text-anchor="end" font-size="15.2">NTs-M</text>
<text transform="translate(1228.7 798.7) rotate(-45)" text-anchor="end" font-size="15.2">NTs-H</text>
</g>
<g id="chartD">
<line x1="110.7" y1="913.2" x2="629.9" y2="913.2" stroke="#d8d8d8" stroke-width="1.5"/>
<line x1="110.7" y1="999.7" x2="629.9" y2="999.7" stroke="#d8d8d8" stroke-width="1.5"/>
<line x1="110.7" y1="1086" x2="629.9" y2="1086" stroke="#d8d8d8" stroke-width="1.5"/>
<rect x="127.0" y="1044.8" width="32.0" height="127.5" fill="#8497b0"/>
<rect x="191.6" y="1055.0" width="32.4" height="117.3" fill="#8497b0"/>
<rect x="256.3" y="1001.3" width="32.5" height="171.0" fill="#8497b0"/>
<rect x="321.0" y="1098.3" width="32.6" height="74.0" fill="#8497b0"/>
<rect x="385.5" y="1056.6" width="32.5" height="115.7" fill="#8497b0"/>
<rect x="450.5" y="1035.6" width="32.1" height="136.7" fill="#8497b0"/>
<rect x="515.0" y="1001.0" width="32.3" height="171.3" fill="#8497b0"/>
<rect x="579.7" y="1042.0" width="32.3" height="130.3" fill="#8497b0"/>
<rect x="110.7" y="1171.55" width="519.2" height="2.70" fill="#fff"/>
<line x1="110.7" y1="1172.3" x2="629.9" y2="1172.3" stroke="#d2d2d2" stroke-width="1.5"/>
<line x1="127.0" y1="1086" x2="159.0" y2="1086" stroke="#dfe2e7" stroke-width="1.5"/>
<line x1="191.6" y1="1086" x2="224.0" y2="1086" stroke="#dfe2e7" stroke-width="1.5"/>
<line x1="256.3" y1="1086" x2="288.8" y2="1086" stroke="#dfe2e7" stroke-width="1.5"/>
<line x1="385.5" y1="1086" x2="418.0" y2="1086" stroke="#dfe2e7" stroke-width="1.5"/>
<line x1="450.5" y1="1086" x2="482.6" y2="1086" stroke="#dfe2e7" stroke-width="1.5"/>
<line x1="515.0" y1="1086" x2="547.3" y2="1086" stroke="#dfe2e7" stroke-width="1.5"/>
<line x1="579.7" y1="1086" x2="612.0" y2="1086" stroke="#dfe2e7" stroke-width="1.5"/>
<path d="M143.0 1044.8V998.0M139.6 998.0H146.4" stroke="#444" stroke-width="1" fill="none"/>
<ellipse cx="143.0" cy="993.0" rx="2.8" ry="2.2" fill="#000"/>
<ellipse cx="143.0" cy="1062.5" rx="2.8" ry="2.2" fill="#000"/>
<ellipse cx="143.0" cy="1074.0" rx="2.8" ry="2.2" fill="#000"/>
<path d="M207.8 1055.0V999.5M204.4 999.5H211.2" stroke="#444" stroke-width="1" fill="none"/>
<ellipse cx="207.8" cy="993.0" rx="2.8" ry="2.2" fill="#000"/>
<ellipse cx="207.8" cy="1068.0" rx="2.8" ry="2.2" fill="#000"/>
<ellipse cx="207.8" cy="1103.0" rx="2.8" ry="2.2" fill="#000"/>
<path d="M272.6 1001.3V939.0M269.2 939.0H275.9" stroke="#444" stroke-width="1" fill="none"/>
<ellipse cx="272.6" cy="929.3" rx="2.8" ry="2.2" fill="#000"/>
<ellipse cx="272.6" cy="1016.3" rx="2.8" ry="2.2" fill="#000"/>
<ellipse cx="272.6" cy="1051.0" rx="2.8" ry="2.2" fill="#000"/>
<path d="M337.3 1098.3V1063.0M333.9 1063.0H340.7" stroke="#444" stroke-width="1" fill="none"/>
<ellipse cx="337.3" cy="1062.7" rx="2.8" ry="2.2" fill="#000"/>
<ellipse cx="337.3" cy="1097.3" rx="2.8" ry="2.2" fill="#000"/>
<ellipse cx="337.3" cy="1131.8" rx="2.8" ry="2.2" fill="#000"/>
<path d="M401.8 1056.6V1027.0M398.4 1027.0H405.1" stroke="#444" stroke-width="1" fill="none"/>
<ellipse cx="401.8" cy="1021.8" rx="2.8" ry="2.2" fill="#000"/>
<ellipse cx="401.8" cy="1068.0" rx="2.8" ry="2.2" fill="#000"/>
<ellipse cx="401.8" cy="1074.0" rx="2.8" ry="2.2" fill="#000"/>
<path d="M466.6 1035.6V1010.5M463.2 1010.5H469.9" stroke="#444" stroke-width="1" fill="none"/>
<ellipse cx="466.6" cy="1010.5" rx="2.8" ry="2.2" fill="#000"/>
<ellipse cx="466.6" cy="1039.3" rx="2.8" ry="2.2" fill="#000"/>
<ellipse cx="466.6" cy="1056.6" rx="2.8" ry="2.2" fill="#000"/>
<path d="M531.1 1001.0V962.0M527.8 962.0H534.5" stroke="#444" stroke-width="1" fill="none"/>
<ellipse cx="531.1" cy="958.3" rx="2.8" ry="2.2" fill="#000"/>
<ellipse cx="531.1" cy="1010.2" rx="2.8" ry="2.2" fill="#000"/>
<ellipse cx="531.1" cy="1033.5" rx="2.8" ry="2.2" fill="#000"/>
<path d="M595.9 1042.0V1002.0M592.5 1002.0H599.2" stroke="#444" stroke-width="1" fill="none"/>
<ellipse cx="595.9" cy="998.8" rx="2.8" ry="2.2" fill="#000"/>
<ellipse cx="595.9" cy="1050.8" rx="2.8" ry="2.2" fill="#000"/>
<ellipse cx="595.9" cy="1074.0" rx="2.8" ry="2.2" fill="#000"/>
<text x="97.3" y="920.4" text-anchor="end" font-size="18.8">0.45</text>
<text x="97.3" y="1005.7" text-anchor="end" font-size="18.8">0.3</text>
<text x="97.3" y="1093.2" text-anchor="end" font-size="18.8">0.15</text>
<text x="97.3" y="1178.2" text-anchor="end" font-size="18.8">0</text>
<text x="22.4" y="922.2" font-size="22.6">D</text>
<text transform="translate(36.6 1079) rotate(-90)" text-anchor="middle" font-size="19.5">PRDM16</text>
<text transform="translate(150.9 1195.7) rotate(-45)" text-anchor="end" font-size="15.8">SAMP8-NC</text>
<text transform="translate(214.3 1195.7) rotate(-45)" text-anchor="end" font-size="15.8">SAMR1-NC</text>
<text transform="translate(285.4 1195.7) rotate(-45)" text-anchor="end" font-size="15.8">SAMP8-young-NC</text>
<text transform="translate(336.1 1195.7) rotate(-45)" text-anchor="end" font-size="15.8">NMN</text>
<text transform="translate(403.1 1195.7) rotate(-45)" text-anchor="end" font-size="15.8">NTs-F</text>
<text transform="translate(466.6 1195.7) rotate(-45)" text-anchor="end" font-size="15.8">NTs-L</text>
<text transform="translate(532.1 1195.7) rotate(-45)" text-anchor="end" font-size="15.8">NTs-M</text>
<text transform="translate(597.9 1195.7) rotate(-45)" text-anchor="end" font-size="15.8">NTs-H</text>
</g>
<g id="chartE">
<line x1="738" y1="918.2" x2="1271" y2="918.2" stroke="#d8d8d8" stroke-width="1.6"/>
<line x1="738" y1="1002" x2="1271" y2="1002" stroke="#d8d8d8" stroke-width="1.6"/>
<line x1="738" y1="1085.4" x2="1271" y2="1085.4" stroke="#d8d8d8" stroke-width="1.6"/>
<rect x="763.4" y="1017.0" width="33.5" height="152.1" fill="#8497b0" stroke="#1e1e1e" stroke-width="1.3"/>
<rect x="829.9" y="1008.6" width="33.1" height="160.5" fill="#8497b0" stroke="#1e1e1e" stroke-width="1.3"/>
<rect x="896.6" y="1015.6" width="32.4" height="153.5" fill="#8497b0" stroke="#1e1e1e" stroke-width="1.3"/>
<rect x="961.6" y="1037.5" width="34.4" height="131.6" fill="#8497b0" stroke="#1e1e1e" stroke-width="1.3"/>
<rect x="1028.3" y="1086.3" width="33.6" height="82.8" fill="#8497b0" stroke="#1e1e1e" stroke-width="1.3"/>
<rect x="1094.2" y="1067.3" width="34.1" height="101.8" fill="#8497b0" stroke="#1e1e1e" stroke-width="1.3"/>
<rect x="1160.6" y="1052.0" width="33.8" height="117.1" fill="#8497b0" stroke="#1e1e1e" stroke-width="1.3"/>
<rect x="1226.5" y="1063.0" width="34.1" height="106.1" fill="#8497b0" stroke="#1e1e1e" stroke-width="1.3"/>
<rect x="738" y="1167.50" width="533.0" height="2.80" fill="#fff"/>
<line x1="738" y1="1168.3" x2="1271" y2="1168.3" stroke="#d2d2d2" stroke-width="1.6"/>
<line x1="764.0" y1="1085.4" x2="796.3" y2="1085.4" stroke="#dfe2e7" stroke-width="1.6"/>
<line x1="830.5" y1="1085.4" x2="862.4" y2="1085.4" stroke="#dfe2e7" stroke-width="1.6"/>
<line x1="897.2" y1="1085.4" x2="928.4" y2="1085.4" stroke="#dfe2e7" stroke-width="1.6"/>
<line x1="962.2" y1="1085.4" x2="995.4" y2="1085.4" stroke="#dfe2e7" stroke-width="1.6"/>
<line x1="1094.8" y1="1085.4" x2="1127.7" y2="1085.4" stroke="#dfe2e7" stroke-width="1.6"/>
<line x1="1161.2" y1="1085.4" x2="1193.8" y2="1085.4" stroke="#dfe2e7" stroke-width="1.6"/>
<line x1="1227.1" y1="1085.4" x2="1260.0" y2="1085.4" stroke="#dfe2e7" stroke-width="1.6"/>
<path d="M780.1 1017.0V959.5M776.8 959.5H783.5" stroke="#444" stroke-width="1" fill="none"/>
<ellipse cx="780.1" cy="951.3" rx="3.5" ry="2.6" fill="#000"/>
<ellipse cx="780.1" cy="1035.0" rx="3.5" ry="2.6" fill="#000"/>
<ellipse cx="780.1" cy="1063.0" rx="3.5" ry="2.6" fill="#000"/>
<path d="M846.5 1008.6V968.0M843.1 968.0H849.9" stroke="#444" stroke-width="1" fill="none"/>
<ellipse cx="846.5" cy="962.5" rx="3.5" ry="2.6" fill="#000"/>
<ellipse cx="846.5" cy="1029.5" rx="3.5" ry="2.6" fill="#000"/>
<ellipse cx="846.5" cy="1035.0" rx="3.5" ry="2.6" fill="#000"/>
<path d="M912.8 1015.6V984.0M909.4 984.0H916.2" stroke="#444" stroke-width="1" fill="none"/>
<ellipse cx="912.8" cy="990.3" rx="3.5" ry="2.6" fill="#000"/>
<ellipse cx="912.8" cy="1007.0" rx="3.5" ry="2.6" fill="#000"/>
<ellipse cx="912.8" cy="1051.8" rx="3.5" ry="2.6" fill="#000"/>
<path d="M978.8 1037.5V997.5M975.4 997.5H982.2" stroke="#444" stroke-width="1" fill="none"/>
<ellipse cx="978.8" cy="1007.0" rx="3.5" ry="2.6" fill="#000"/>
<ellipse cx="978.8" cy="1023.8" rx="3.5" ry="2.6" fill="#000"/>
<ellipse cx="978.8" cy="1085.0" rx="3.5" ry="2.6" fill="#000"/>
<path d="M1045.1 1086.3V1067.8M1041.7 1067.8H1048.5" stroke="#444" stroke-width="1" fill="none"/>
<ellipse cx="1045.1" cy="1062.6" rx="3.5" ry="2.6" fill="#000"/>
<ellipse cx="1045.1" cy="1090.5" rx="3.5" ry="2.6" fill="#000"/>
<ellipse cx="1045.1" cy="1101.7" rx="3.5" ry="2.6" fill="#000"/>
<path d="M1111.2 1067.3V1034.8M1107.8 1034.8H1114.7" stroke="#444" stroke-width="1" fill="none"/>
<ellipse cx="1111.2" cy="1034.8" rx="3.5" ry="2.6" fill="#000"/>
<ellipse cx="1111.2" cy="1068.3" rx="3.5" ry="2.6" fill="#000"/>
<ellipse cx="1111.2" cy="1101.7" rx="3.5" ry="2.6" fill="#000"/>
<path d="M1177.5 1052.0V1014.0M1174.1 1014.0H1180.9" stroke="#444" stroke-width="1" fill="none"/>
<ellipse cx="1177.5" cy="1023.7" rx="3.5" ry="2.6" fill="#000"/>
<ellipse cx="1177.5" cy="1035.0" rx="3.5" ry="2.6" fill="#000"/>
<ellipse cx="1177.5" cy="1096.3" rx="3.5" ry="2.6" fill="#000"/>
<path d="M1243.5 1063.0V1040.5M1240.1 1040.5H1247.0" stroke="#444" stroke-width="1" fill="none"/>
<ellipse cx="1243.5" cy="1046.0" rx="3.5" ry="2.6" fill="#000"/>
<ellipse cx="1243.5" cy="1051.8" rx="3.5" ry="2.6" fill="#000"/>
<ellipse cx="1243.5" cy="1090.6" rx="3.5" ry="2.6" fill="#000"/>
<text x="733.5" y="925.5" text-anchor="end" font-size="18.2">0.45</text>
<text x="733.5" y="1008.2" text-anchor="end" font-size="18.2">0.3</text>
<text x="733.5" y="1091.0" text-anchor="end" font-size="18.2">0.15</text>
<text x="733.5" y="1174.6" text-anchor="end" font-size="18.2">0</text>
<text x="667.2" y="930.8" font-size="23.3">E</text>
<text transform="translate(682 1043) rotate(-90)" text-anchor="middle" font-size="21">NAMPT</text>
<text transform="translate(789.6 1192.3) rotate(-45)" text-anchor="end" font-size="14.8">SAMP8-NC</text>
<text transform="translate(855.5 1192.3) rotate(-45)" text-anchor="end" font-size="14.8">SAMR1-NC</text>
<text transform="translate(928.0 1192.3) rotate(-45)" text-anchor="end" font-size="14.8">SAMP8-young-NC</text>
<text transform="translate(981.1 1192.3) rotate(-45)" text-anchor="end" font-size="14.8">NMN</text>
<text transform="translate(1045.9 1192.3) rotate(-45)" text-anchor="end" font-size="14.8">NTs-F</text>
<text transform="translate(1113.0 1192.3) rotate(-45)" text-anchor="end" font-size="14.8">NTs-L</text>
<text transform="translate(1179.7 1192.3) rotate(-45)" text-anchor="end" font-size="14.8">NTs-M</text>
<text transform="translate(1245.5 1192.3) rotate(-45)" text-anchor="end" font-size="14.8">NTs-H</text>
</g>
<g id="chartF">
<line x1="443.7" y1="1317.7" x2="940" y2="1317.7" stroke="#d8d8d8" stroke-width="1.3"/>
<line x1="443.7" y1="1405.4" x2="940" y2="1405.4" stroke="#d8d8d8" stroke-width="1.3"/>
<line x1="443.7" y1="1492.6" x2="940" y2="1492.6" stroke="#d8d8d8" stroke-width="1.3"/>
<rect x="458.4" y="1506.0" width="32.2" height="75.0" fill="#8497b0" stroke="#1e1e1e" stroke-width="1.2"/>
<rect x="520.9" y="1459.5" width="32.1" height="121.5" fill="#8497b0" stroke="#1e1e1e" stroke-width="1.2"/>
<rect x="583.0" y="1395.5" width="32.6" height="185.5" fill="#8497b0" stroke="#1e1e1e" stroke-width="1.2"/>
<rect x="645.5" y="1490.0" width="32.2" height="91.0" fill="#8497b0" stroke="#1e1e1e" stroke-width="1.2"/>
<rect x="707.8" y="1529.5" width="31.9" height="51.5" fill="#8497b0" stroke="#1e1e1e" stroke-width="1.2"/>
<rect x="769.9" y="1454.0" width="32.1" height="127.0" fill="#8497b0" stroke="#1e1e1e" stroke-width="1.2"/>
<rect x="832.5" y="1459.2" width="31.9" height="121.8" fill="#8497b0" stroke="#1e1e1e" stroke-width="1.2"/>
<rect x="894.6" y="1489.5" width="31.6" height="91.5" fill="#8497b0" stroke="#1e1e1e" stroke-width="1.2"/>
<rect x="443.7" y="1579.55" width="496.3" height="2.50" fill="#fff"/>
<line x1="443.7" y1="1580.2" x2="940" y2="1580.2" stroke="#d2d2d2" stroke-width="1.3"/>
<line x1="583.6" y1="1405.4" x2="615.0" y2="1405.4" stroke="#dfe2e7" stroke-width="1.3"/>
<line x1="521.5" y1="1492.6" x2="552.4" y2="1492.6" stroke="#dfe2e7" stroke-width="1.3"/>
<line x1="583.6" y1="1492.6" x2="615.0" y2="1492.6" stroke="#dfe2e7" stroke-width="1.3"/>
<line x1="646.1" y1="1492.6" x2="677.1" y2="1492.6" stroke="#dfe2e7" stroke-width="1.3"/>
<line x1="770.5" y1="1492.6" x2="801.4" y2="1492.6" stroke="#dfe2e7" stroke-width="1.3"/>
<line x1="833.1" y1="1492.6" x2="863.8" y2="1492.6" stroke="#dfe2e7" stroke-width="1.3"/>
<line x1="895.2" y1="1492.6" x2="925.6" y2="1492.6" stroke="#dfe2e7" stroke-width="1.3"/>
<path d="M474.5 1506.0V1499.0M471.1 1499.0H477.9" stroke="#444" stroke-width="1" fill="none"/>
<ellipse cx="474.5" cy="1498.3" rx="2.5" ry="2.0" fill="#000"/>
<ellipse cx="474.5" cy="1510.0" rx="2.5" ry="2.0" fill="#000"/>
<text x="474.5" y="1488.5" text-anchor="middle" font-size="15.5">c</text>
<path d="M537.0 1459.5V1440.5M533.6 1440.5H540.4" stroke="#444" stroke-width="1" fill="none"/>
<ellipse cx="537.0" cy="1446.0" rx="2.5" ry="2.0" fill="#000"/>
<ellipse cx="537.0" cy="1451.5" rx="2.5" ry="2.0" fill="#000"/>
<ellipse cx="537.0" cy="1481.0" rx="2.5" ry="2.0" fill="#000"/>
<text x="537.0" y="1434.5" text-anchor="middle" font-size="15.5">c</text>
<path d="M599.3 1395.5V1378.0M595.9 1378.0H602.7" stroke="#444" stroke-width="1" fill="none"/>
<ellipse cx="599.3" cy="1376.0" rx="2.5" ry="2.0" fill="#000"/>
<ellipse cx="599.3" cy="1399.3" rx="2.5" ry="2.0" fill="#000"/>
<ellipse cx="599.3" cy="1411.3" rx="2.5" ry="2.0" fill="#000"/>
<text x="599.3" y="1362.5" text-anchor="middle" font-size="15.5">ab</text>
<path d="M661.6 1490.0V1467.4M658.2 1467.4H665.0" stroke="#444" stroke-width="1" fill="none"/>
<ellipse cx="661.6" cy="1463.0" rx="2.5" ry="2.0" fill="#000"/>
<ellipse cx="661.6" cy="1498.0" rx="2.5" ry="2.0" fill="#000"/>
<ellipse cx="661.6" cy="1509.7" rx="2.5" ry="2.0" fill="#000"/>
<text x="661.6" y="1454.0" text-anchor="middle" font-size="15.5">c</text>
<path d="M723.8 1529.5V1504.5M720.4 1504.5H727.1" stroke="#444" stroke-width="1" fill="none"/>
<ellipse cx="723.8" cy="1509.7" rx="2.5" ry="2.0" fill="#000"/>
<ellipse cx="723.8" cy="1544.5" rx="2.5" ry="2.0" fill="#000"/>
<text x="723.8" y="1493.5" text-anchor="middle" font-size="15.5">c</text>
<path d="M786.0 1454.0V1398.2M782.6 1398.2H789.4" stroke="#444" stroke-width="1" fill="none"/>
<ellipse cx="786.0" cy="1393.5" rx="2.5" ry="2.0" fill="#000"/>
<ellipse cx="786.0" cy="1475.0" rx="2.5" ry="2.0" fill="#000"/>
<ellipse cx="786.0" cy="1498.0" rx="2.5" ry="2.0" fill="#000"/>
<text x="786.0" y="1384.0" text-anchor="middle" font-size="15.5">c</text>
<path d="M848.5 1459.2V1428.5M845.1 1428.5H851.9" stroke="#444" stroke-width="1" fill="none"/>
<ellipse cx="848.5" cy="1428.5" rx="2.5" ry="2.0" fill="#000"/>
<ellipse cx="848.5" cy="1457.5" rx="2.5" ry="2.0" fill="#000"/>
<ellipse cx="848.5" cy="1492.3" rx="2.5" ry="2.0" fill="#000"/>
<text x="848.5" y="1414.0" text-anchor="middle" font-size="15.5">c</text>
<path d="M910.4 1489.5V1454.5M907.0 1454.5H913.8" stroke="#444" stroke-width="1" fill="none"/>
<ellipse cx="910.4" cy="1457.5" rx="2.5" ry="2.0" fill="#000"/>
<ellipse cx="910.4" cy="1486.5" rx="2.5" ry="2.0" fill="#000"/>
<ellipse cx="910.4" cy="1527.0" rx="2.5" ry="2.0" fill="#000"/>
<text x="910.4" y="1443.0" text-anchor="middle" font-size="15.5">c</text>
<text x="429.8" y="1325.0" text-anchor="end" font-size="20.6">0.45</text>
<text x="429.8" y="1411.3" text-anchor="end" font-size="20.6">0.3</text>
<text x="429.8" y="1498.9" text-anchor="end" font-size="20.6">0.15</text>
<text x="429.8" y="1586.8" text-anchor="end" font-size="20.6">0</text>
<text x="354.8" y="1326.2" font-size="23.2">F</text>
<text transform="translate(373.8 1448.6) rotate(-90)" text-anchor="middle" font-size="23.7">PPARα</text>
<text transform="translate(484.1 1605.2) rotate(-45)" text-anchor="end" font-size="17.3">SAMP8-NC</text>
<text transform="translate(546.1 1605.2) rotate(-45)" text-anchor="end" font-size="17.3">SAMR1-NC</text>
<text transform="translate(613.1 1605.2) rotate(-45)" text-anchor="end" font-size="17.3">SAMP8-young-NC</text>
<text transform="translate(662.9 1605.2) rotate(-45)" text-anchor="end" font-size="17.3">NMN</text>
<text transform="translate(726.2 1605.2) rotate(-45)" text-anchor="end" font-size="17.3">NTs-F</text>
<text transform="translate(788.8 1605.2) rotate(-45)" text-anchor="end" font-size="17.3">NTs-L</text>
<text transform="translate(850.8 1605.2) rotate(-45)" text-anchor="end" font-size="17.3">NTs-M</text>
<text transform="translate(913.3 1605.2) rotate(-45)" text-anchor="end" font-size="17.3">NTs-H</text>
</g>
</svg>
</body></html>
